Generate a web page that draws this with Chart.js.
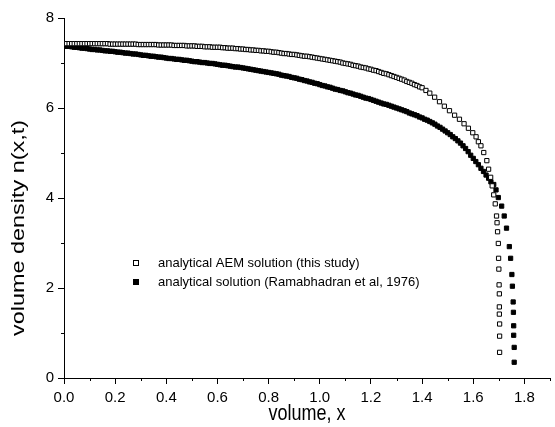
<!DOCTYPE html>
<html>
<head>
<meta charset="utf-8">
<script src="https://cdn.jsdelivr.net/npm/chart.js@4/dist/chart.umd.min.js"></script>
<style>
  html, body { margin: 0; padding: 0; background: #fff; }
  canvas { display: block; }
</style>
</head>
<body>
<canvas id="chart" width="555" height="427"></canvas>
<script>
// series names (legend)
const seriesNames = ["analytical AEM solution (this study)", "analytical solution (Ramabhadran et al, 1976)"];

// axis ticks
const xMajor = [0, 0.2, 0.4, 0.6, 0.8, 1.0, 1.2, 1.4, 1.6, 1.8];
const xMinor = [0.1, 0.3, 0.5, 0.7, 0.9, 1.1, 1.3, 1.5, 1.7, 1.9];
const yMajor = [0, 2, 4, 6, 8];
const yMinor = [1, 3, 5, 7];

// common x for the flat part of both curves
const bodyX = [
  0, 0.01, 0.02, 0.03, 0.04, 0.05, 0.06, 0.07, 0.08, 0.09, 0.1,
  0.11, 0.12, 0.13, 0.14, 0.15, 0.16, 0.17, 0.18, 0.19, 0.2,
  0.21, 0.22, 0.23, 0.24, 0.25, 0.26, 0.27, 0.28, 0.29, 0.3,
  0.31, 0.32, 0.33, 0.34, 0.35, 0.36, 0.37, 0.38, 0.39, 0.4,
  0.41, 0.42, 0.43, 0.44, 0.45, 0.46, 0.47, 0.48, 0.49, 0.5,
  0.51, 0.52, 0.53, 0.54, 0.55, 0.56, 0.57, 0.58, 0.59, 0.6,
  0.61, 0.62, 0.63, 0.64, 0.65, 0.66, 0.67, 0.68, 0.69, 0.7,
  0.71, 0.72, 0.73, 0.74, 0.75, 0.76, 0.77, 0.78, 0.79, 0.8,
  0.81, 0.82, 0.83, 0.84, 0.85, 0.86, 0.87, 0.88, 0.89, 0.9,
  0.91, 0.92, 0.93, 0.94, 0.95, 0.96, 0.97, 0.98, 0.99, 1.0,
  1.01, 1.02, 1.03, 1.04, 1.05, 1.06, 1.07, 1.08, 1.09, 1.1,
  1.11, 1.12, 1.13, 1.14, 1.15, 1.16, 1.17, 1.18, 1.19, 1.2,
  1.21, 1.22, 1.23, 1.24, 1.25, 1.26, 1.27, 1.28, 1.29, 1.3,
  1.31, 1.32, 1.33, 1.34, 1.35, 1.36, 1.37, 1.38, 1.39, 1.4
];

// AEM solution (open squares)
const aemBodyY = [
  7.43, 7.43, 7.43, 7.43, 7.43, 7.43, 7.43, 7.43, 7.43, 7.43, 7.43,
  7.43, 7.43, 7.43, 7.43, 7.43, 7.43, 7.43, 7.42, 7.42, 7.42,
  7.42, 7.42, 7.42, 7.42, 7.42, 7.42, 7.42, 7.42, 7.41, 7.41,
  7.41, 7.41, 7.41, 7.41, 7.41, 7.41, 7.40, 7.40, 7.40, 7.40,
  7.40, 7.40, 7.39, 7.39, 7.39, 7.39, 7.39, 7.38, 7.38, 7.38,
  7.38, 7.37, 7.37, 7.37, 7.36, 7.36, 7.36, 7.35, 7.35, 7.35,
  7.35, 7.34, 7.34, 7.33, 7.33, 7.33, 7.32, 7.32, 7.31, 7.31,
  7.30, 7.30, 7.29, 7.29, 7.28, 7.28, 7.27, 7.27, 7.26, 7.26,
  7.25, 7.24, 7.24, 7.23, 7.22, 7.21, 7.21, 7.20, 7.19, 7.19,
  7.18, 7.17, 7.16, 7.15, 7.15, 7.14, 7.13, 7.12, 7.11, 7.10,
  7.09, 7.08, 7.07, 7.06, 7.05, 7.04, 7.03, 7.02, 7.00, 6.99,
  6.98, 6.97, 6.95, 6.94, 6.93, 6.91, 6.90, 6.89, 6.87, 6.86,
  6.84, 6.83, 6.81, 6.79, 6.77, 6.76, 6.74, 6.72, 6.70, 6.68,
  6.66, 6.64, 6.62, 6.59, 6.57, 6.55, 6.52, 6.50, 6.47, 6.45
];
const aemTailX = [1.415, 1.430, 1.449, 1.468, 1.487, 1.507, 1.527, 1.546, 1.564, 1.581, 1.598, 1.611,
  1.620, 1.630, 1.641, 1.653, 1.660, 1.668, 1.674, 1.680, 1.686, 1.691, 1.693, 1.695, 1.698, 1.699,
  1.700, 1.701, 1.702, 1.702, 1.702, 1.703, 1.703, 1.703];
const aemTailY = [6.39, 6.33, 6.24, 6.14, 6.04, 5.94, 5.84, 5.75, 5.65, 5.55, 5.45, 5.36,
  5.25, 5.16, 5.01, 4.83, 4.64, 4.46, 4.27, 4.07, 3.87, 3.60, 3.45, 3.25, 2.99, 2.66,
  2.42, 2.07, 1.87, 1.58, 1.42, 1.20, 0.93, 0.57];

// Ramabhadran et al. solution (filled squares)
const ramBodyY = [
  7.38, 7.37, 7.37, 7.36, 7.35, 7.35, 7.34, 7.33, 7.33, 7.32, 7.31,
  7.30, 7.30, 7.29, 7.29, 7.28, 7.27, 7.27, 7.26, 7.26, 7.25,
  7.24, 7.24, 7.23, 7.22, 7.22, 7.21, 7.20, 7.20, 7.19, 7.18,
  7.17, 7.17, 7.16, 7.15, 7.15, 7.14, 7.13, 7.13, 7.12, 7.11,
  7.10, 7.10, 7.09, 7.08, 7.08, 7.07, 7.06, 7.06, 7.05, 7.04,
  7.03, 7.03, 7.02, 7.01, 7.01, 7.00, 6.99, 6.99, 6.98, 6.97,
  6.96, 6.95, 6.95, 6.94, 6.93, 6.92, 6.91, 6.91, 6.90, 6.89,
  6.88, 6.87, 6.86, 6.85, 6.84, 6.83, 6.82, 6.81, 6.80, 6.79,
  6.78, 6.77, 6.76, 6.75, 6.73, 6.72, 6.71, 6.70, 6.68, 6.67,
  6.66, 6.64, 6.63, 6.61, 6.60, 6.58, 6.57, 6.55, 6.54, 6.52,
  6.50, 6.49, 6.47, 6.46, 6.44, 6.42, 6.41, 6.39, 6.38, 6.36,
  6.34, 6.33, 6.31, 6.29, 6.28, 6.26, 6.24, 6.22, 6.21, 6.19,
  6.17, 6.15, 6.13, 6.11, 6.09, 6.08, 6.06, 6.04, 6.02, 6.00,
  5.98, 5.96, 5.94, 5.92, 5.89, 5.87, 5.85, 5.83, 5.80, 5.78
];
const ramTailX = [1.41, 1.42, 1.43, 1.44, 1.45, 1.46, 1.47, 1.48, 1.49, 1.50, 1.51, 1.52, 1.53,
  1.54, 1.55, 1.56, 1.57, 1.58, 1.59, 1.60, 1.61, 1.62, 1.63, 1.64, 1.65, 1.66,
  1.669, 1.680, 1.689, 1.698, 1.711, 1.721, 1.730, 1.741, 1.746, 1.751, 1.753, 1.756,
  1.757, 1.758, 1.758, 1.760, 1.760];
const ramTailY = [5.75, 5.73, 5.70, 5.67, 5.64, 5.60, 5.57, 5.53, 5.49, 5.45, 5.41, 5.36, 5.32,
  5.27, 5.22, 5.16, 5.10, 5.03, 4.95, 4.88, 4.81, 4.74, 4.66, 4.59, 4.51, 4.44,
  4.36, 4.30, 4.18, 4.01, 3.82, 3.60, 3.33, 2.92, 2.66, 2.30, 2.04, 1.69,
  1.46, 1.16, 0.95, 0.68, 0.35];

function toPoints(xs, ys) {
  return xs.map((x, i) => ({ x: x, y: ys[i] }));
}

const FONT = '"Liberation Sans", Arial, sans-serif';

// minor ticks, axis titles and the in-plot legend
const extras = {
  id: "extras",
  afterDraw(chart) {
    const ctx = chart.ctx;
    const area = chart.chartArea;
    const xs = chart.scales.x;
    const ys = chart.scales.y;
    ctx.save();
    ctx.strokeStyle = "#000";
    ctx.lineWidth = 1;
    ctx.beginPath();
    xMinor.forEach(v => {
      const px = Math.round(xs.getPixelForValue(v)) + 0.5;
      ctx.moveTo(px, area.bottom);
      ctx.lineTo(px, area.bottom + 3);
    });
    yMinor.forEach(v => {
      const py = Math.round(ys.getPixelForValue(v)) + 0.5;
      ctx.moveTo(area.left, py);
      ctx.lineTo(area.left - 3, py);
    });
    ctx.stroke();

    // axis titles (the source figure is stretched vertically)
    ctx.fillStyle = "#000";
    ctx.font = "18px " + FONT;
    ctx.textAlign = "center";
    ctx.textBaseline = "middle";
    ctx.save();
    ctx.translate((area.left + area.right) / 2, 414);
    ctx.scale(1, 1.2);
    ctx.fillText("volume, x", 0, 0);
    ctx.restore();
    ctx.save();
    ctx.translate(19, 228);
    ctx.rotate(-Math.PI / 2);
    ctx.scale(1.3, 1);
    ctx.fillText("volume density n(x,t)", 0, 0);
    ctx.restore();

    // legend
    const rows = [263, 282];
    ctx.font = "13px " + FONT;
    ctx.textAlign = "left";
    rows.forEach((ry, i) => {
      if (i === 0) {
        ctx.fillStyle = "#fff";
        ctx.fillRect(133.5, ry - 2.5, 5, 5);
        ctx.strokeRect(133.5, ry - 2.5, 5, 5);
      } else {
        ctx.fillStyle = "#000";
        ctx.fillRect(133, ry - 3, 6, 6);
      }
      ctx.fillStyle = "#000";
      ctx.fillText(seriesNames[i], 158, ry);
    });
    ctx.restore();
  }
};

new Chart(document.getElementById("chart"), {
  type: "scatter",
  data: {
    datasets: [
      {
        label: seriesNames[0],
        data: toPoints(bodyX, aemBodyY).concat(toPoints(aemTailX, aemTailY)),
        pointStyle: "rect",
        pointRadius: 3,
        borderWidth: 1,
        borderColor: "#000",
        backgroundColor: "#fff"
      },
      {
        label: seriesNames[1],
        data: toPoints(bodyX, ramBodyY).concat(toPoints(ramTailX, ramTailY)),
        pointStyle: "rect",
        pointRadius: 3,
        borderWidth: 1,
        borderColor: "#000",
        backgroundColor: "#000"
      }
    ]
  },
  options: {
    responsive: false,
    animation: false,
    devicePixelRatio: 1,
    layout: { padding: { top: 18, right: 2, left: 0, bottom: 0 } },
    plugins: {
      legend: { display: false },
      tooltip: { enabled: false }
    },
    scales: {
      x: {
        type: "linear",
        min: 0,
        max: 1.9,
        afterBuildTicks: s => { s.ticks = xMajor.map(v => ({ value: v })); },
        afterFit: s => { s.height = 49; },
        ticks: {
          callback: v => Number(v).toFixed(1),
          color: "#000",
          font: { family: FONT, size: 15 },
          padding: 5,
          maxRotation: 0,
          autoSkip: false
        },
        grid: { drawOnChartArea: false, tickLength: 6, color: "#000" },
        border: { color: "#000" }
      },
      y: {
        type: "linear",
        min: 0,
        max: 8,
        afterBuildTicks: s => { s.ticks = yMajor.map(v => ({ value: v })); },
        afterFit: s => { s.width = 64; },
        ticks: {
          callback: v => String(v),
          color: "#000",
          font: { family: FONT, size: 15 },
          padding: 4,
          autoSkip: false
        },
        grid: { drawOnChartArea: false, tickLength: 6, color: "#000" },
        border: { color: "#000" }
      }
    }
  },
  plugins: [extras]
});
</script>
</body>
</html>
